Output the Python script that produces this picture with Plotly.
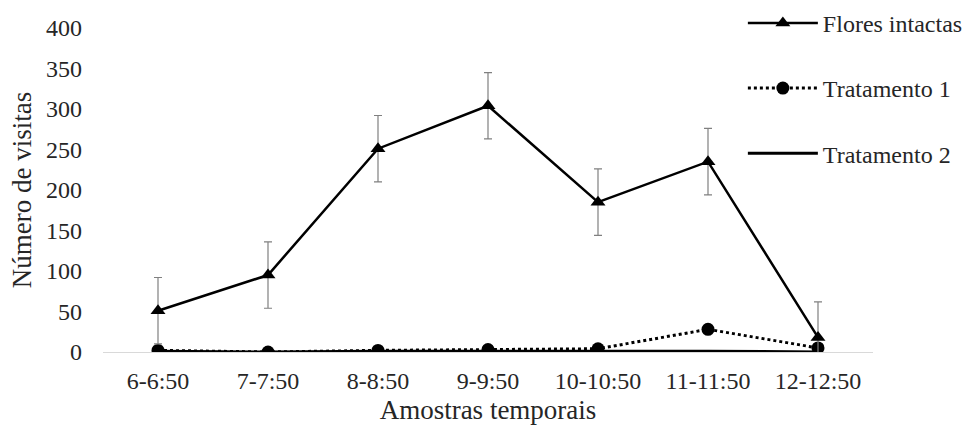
import plotly.graph_objects as go

categories = ["6-6:50", "7-7:50", "8-8:50", "9-9:50", "10-10:50", "11-11:50", "12-12:50"]
flores = [51, 95, 251, 304, 185, 235, 18]
flores_err = [41, 41, 41, 41, 41, 41, 44]
trat1 = [2, 0, 2, 3, 4, 28, 5]
trat2 = [1, 0, 1, 1, 1, 1, 0]
yticks = [0, 50, 100, 150, 200, 250, 300, 350, 400]

font = "Liberation Serif"

fig = go.Figure()
fig.add_trace(go.Scatter(
    x=categories, y=trat2, name="Tratamento 2", mode="lines",
    line=dict(color="black", width=3), legendrank=3, legendgroup="c"))
fig.add_trace(go.Scatter(
    x=categories, y=trat1, name="Tratamento 1", mode="lines+markers",
    line=dict(color="black", width=3, dash="dot"),
    marker=dict(symbol="circle", size=13, color="black"), legendrank=2, legendgroup="b"))
fig.add_trace(go.Scatter(
    x=categories, y=flores, name="Flores intactas", mode="lines+markers",
    line=dict(color="black", width=2.5),
    marker=dict(symbol="triangle-up", size=13, color="black"),
    error_y=dict(type="data", array=flores_err, visible=True, color="#808080", thickness=1.2, width=4),
    legendrank=1, legendgroup="a"))

fig.update_layout(
    width=970, height=425,
    margin=dict(l=103, r=97, t=28, b=73, autoexpand=False),
    paper_bgcolor="white", plot_bgcolor="white",
    font=dict(family=font, size=24, color="#262626"),
    showlegend=True,
    legend=dict(x=0.831, y=1.084, xanchor="left", yanchor="top",
                font=dict(family=font, size=24, color="#262626"),
                tracegroupgap=31, itemwidth=70, bgcolor="rgba(0,0,0,0)"),
    xaxis=dict(title=dict(text="Amostras temporais", standoff=10, font=dict(size=27)),
               showline=True, linecolor="#d9d9d9", linewidth=1,
               showgrid=False, zeroline=False, ticks="", ticklabelstandoff=7,
               range=[-0.5, 6.5], tickfont=dict(size=24)),
    yaxis=dict(title=dict(text="Número de visitas", standoff=6, font=dict(size=27)),
               range=[0, 400], tickvals=yticks, showgrid=False, zeroline=False,
               showline=False, ticks="", ticklabelstandoff=20, tickfont=dict(size=24)),
)
fig.write_html("out.html")
